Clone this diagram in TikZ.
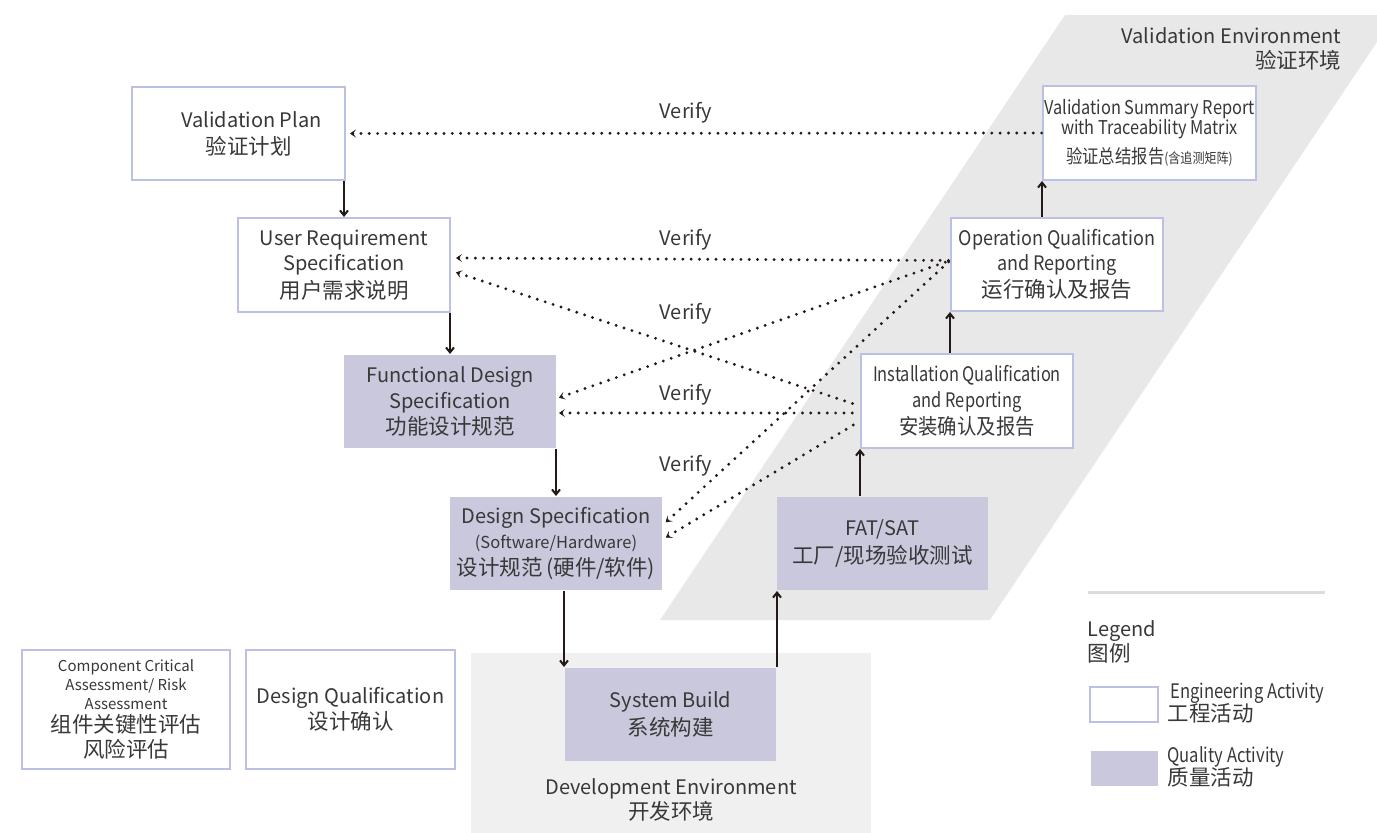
\documentclass[tikz,border=0pt]{standalone}
\usepackage{fontspec,graphicx}
\setmainfont{Noto Sans CJK SC}
\usetikzlibrary{arrows.meta,positioning,calc}
\definecolor{ink}{HTML}{383838}
\definecolor{arrowdark}{HTML}{231916}
\definecolor{lavender}{HTML}{BCC0E4}
\definecolor{quality}{HTML}{C9C8DD}
\definecolor{valenv}{HTML}{E8E8E8}
\definecolor{devenv}{HTML}{F0F0F0}
\definecolor{rulegray}{HTML}{DCDCDC}
\newcommand{\sz}[2]{\fontsize{#1}{#2}\selectfont}
\newcommand{\zh}{\fontsize{21.5}{25}\selectfont}
\newcommand{\cond}[2][0.86]{\scalebox{#1}[1]{#2}}
\tikzset{engbox/.style={draw=lavender,line width=2pt,fill=white,align=center,text=ink,inner sep=0pt,minimum width=212pt,minimum height=93pt,font=\sz{20}{25.2}}, qualbox/.style={engbox,draw=none,fill=quality}, flow/.style={-{Straight Barb[length=5pt,width=8pt]},line width=2pt,draw=arrowdark}, verify/.style={{Stealth[length=6pt,width=8pt,inset=3pt]}-,line width=3.2pt,draw=arrowdark,line cap=round,dash pattern=on 0pt off 8.3pt,shorten <=1pt}, vlabel/.style={text=ink,font=\sz{20}{24}}, envtext/.style={text=ink,font=\sz{20}{25},align=center}}
\begin{document}
\begin{tikzpicture}[x=1pt,y=-1pt]
\useasboundingbox (0,0) rectangle (1377,833);
% environments
\fill[valenv] (660,620) -- (1065,15) -- (1377,15) -- (1377,42) -- (990,620) -- cycle;
\fill[devenv] (471,653) rectangle (871,833);
\node[envtext,align=right,anchor=north east] (valenvlbl) at (1345,24) {Validation Environment\\{\zh 验证环境}};
\node[envtext] (devenvlbl) at (671,800) {Development Environment\\{\zh 开发环境}};
% activities
\node[engbox,minimum width=213pt] (vp) at (238.5,133.5) {\hspace*{26pt}Validation Plan\\[2pt]\hspace*{20pt}{\zh 验证计划}};
\node[engbox,minimum height=94pt] (urs) at (344,265) {User Requirement\\Specification\\[2pt]{\zh 用户需求说明}};
\node[qualbox] (fds) at (450,401.5) {Functional Design\\Specification\\[1pt]{\zh 功能设计规范}};
\node[qualbox] (ds) at (556,543.5) {Design Specification\\{\sz{16.5}{18}(Software/Hardware)}\\[1pt]{\zh 设计规范\,(硬件/软件)}};
\node[qualbox,minimum width=211pt] (sb) at (670.5,714.5) {System Build\\[3pt]{\zh 系统构建}};
\node[qualbox,minimum width=211pt] (fat) at (882.5,543.5) {FAT/SAT\\[2pt]{\zh 工厂/现场验收测试}};
\node[engbox,minimum height=94pt] (iq) at (967,401) {\cond[0.82]{Installation Qualification}\\\cond[0.82]{and Reporting}\\[2pt]\cond[0.9]{\zh 安装确认及报告}};
\node[engbox] (oq) at (1057,264.5) {\cond[0.9]{Operation Qualification}\\\cond[0.9]{and Reporting}\\[2pt]{\zh 运行确认及报告}};
\node[engbox,minimum width=213pt,minimum height=94pt,font=\sz{19}{20}] (vsr) at (1149.5,133) {\cond{Validation Summary Report}\\\cond{with Traceability Matrix}\\[7pt]\cond{验证总结报告{\sz{14}{16}(含追测矩阵)}}};
\node[engbox,minimum width=208pt,minimum height=119pt,font=\sz{15}{19}] (cca) at (126,709.5) {Component Critical\\Assessment/ Risk\\Assessment\\[4pt]{\zh 组件关键性评估}\\[4pt]{\zh 风险评估}};
\node[engbox,minimum width=209pt,minimum height=119pt] (dq) at (350.5,709.5) {Design Qualification\\[1pt]{\zh 设计确认}};
% flow
\draw[flow] (urs.north |- vp.south) -- (urs.north);
\draw[flow] (fds.north |- urs.south) -- (fds.north);
\draw[flow] (ds.north |- fds.south) -- (ds.north);
\draw[flow] (sb.north west |- ds.south) -- (sb.north west);
\draw[flow] (sb.north east) -- (sb.north east |- fat.south);
\draw[flow] (iq.south west |- fat.north) -- (iq.south west);
\draw[flow] (oq.south west |- iq.north) -- (oq.south west);
\draw[flow] (vsr.south west |- oq.north) -- (vsr.south west);
% verify
\coordinate (oqv) at ([yshift=4pt]oq.west);
\coordinate (iqa) at ([yshift=-5pt]iq.west);
\coordinate (iqb) at ([yshift=-12pt]iq.west);
\coordinate (iqc) at ([yshift=-20pt]iq.west);
\draw[verify] ([xshift=3pt]vp.east) -- (vsr.west);
\draw[verify] ([xshift=4pt,yshift=7pt]urs.east) -- (oqv);
\draw[verify] ([xshift=4pt,yshift=-7pt]urs.east) -- (iqa);
\draw[verify] ([xshift=1pt,yshift=3.5pt]fds.east) -- (oqv);
\draw[verify] ([xshift=1pt,yshift=-11.5pt]fds.east) -- (iqb);
\draw[verify] ([xshift=2pt,yshift=20.5pt]ds.east) -- (oqv);
\draw[verify] ([xshift=2pt,yshift=5.5pt]ds.east) -- (iqc);
\foreach \vy/\vn in {113/v1,240/v2,314/v3,395/v4,466/v5}
  \node[vlabel] (\vn) at (686,\vy) {Verify};
% legend
\draw[rulegray,line width=3pt] (1088,592) -- (1325,592);
\node[text=ink,font=\sz{20}{25},align=left,anchor=west] (leg) at (1084,642) {Legend\\{\zh 图例}};
\node[engbox,minimum width=68pt,minimum height=35pt] (legeng) at (1124,704.5) {};
\node[qualbox,minimum width=67pt,minimum height=35pt] (legqual) at (1124.5,768.5) {};
\node[text=ink,font=\sz{20}{23},align=left,anchor=west] (legengtxt) at (1164,703) {\hspace*{3pt}\cond[0.83]{Engineering Activity}\\{\zh 工程活动}};
\node[text=ink,font=\sz{20}{23},align=left,anchor=west] (legqualtxt) at (1164,767) {\cond[0.83]{Quality Activity}\\{\zh 质量活动}};
\end{tikzpicture}
\end{document}
